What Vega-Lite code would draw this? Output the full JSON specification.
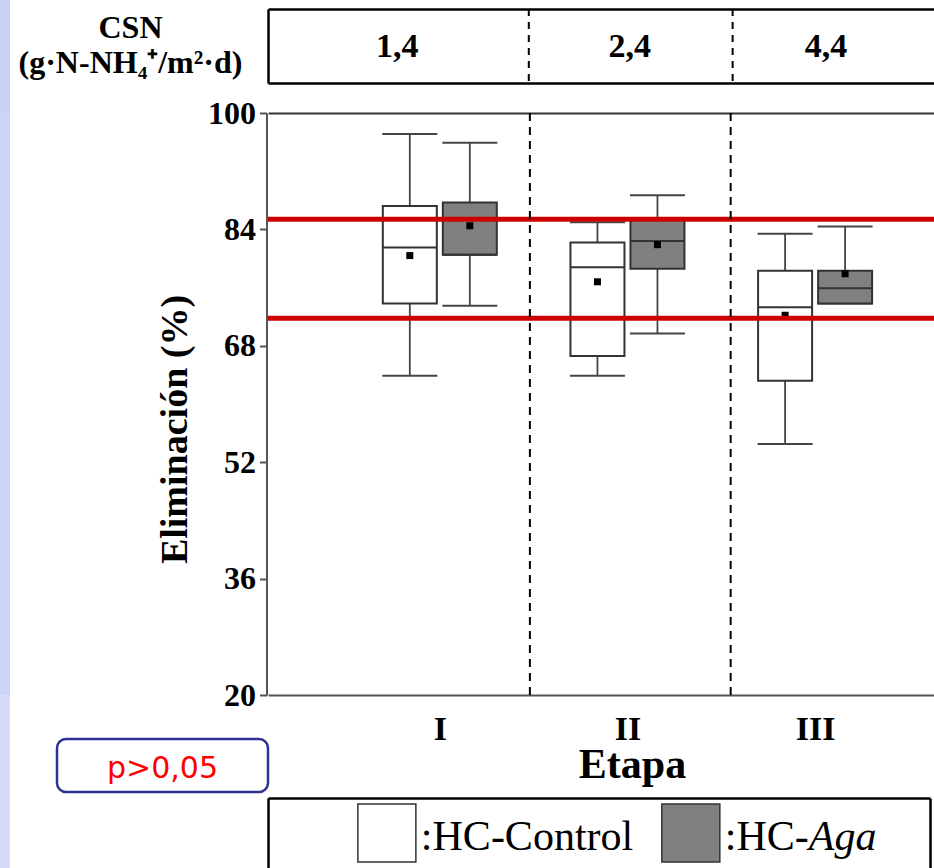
{
  "$schema": "https://vega.github.io/schema/vega-lite/v6.json",
  "padding": 0,
  "autosize": {"type": "pad"},
  "background": "white",
  "config": {"view": {"stroke": null}, "axis": {"grid": false}, "font": "Liberation Serif"},
  "spacing": 0,
  "bounds": "flush",
  "align": "each",
  "columns": 4,
  "concat": [
    {"width": 10, "height": 9, "view": {"fill": "#c8d0f4", "stroke": null}, "data": {"values": []}, "mark": "point"},
    {"width": 1, "height": 1, "data": {"values": []}, "mark": "point"},
    {"width": 1, "height": 1, "data": {"values": []}, "mark": "point"},
    {"width": 1, "height": 1, "data": {"values": []}, "mark": "point"},

    {"width": 10, "height": 74, "view": {"fill": "#c8d0f4", "stroke": null}, "data": {"values": []}, "mark": "point"},
    {"width": 1, "height": 1, "data": {"values": []}, "mark": "point"},
    {"width": 1, "height": 1, "data": {"values": []}, "mark": "point"},
    {
      "width": 666, "height": 74,
      "layer": [
        {
          "data": {"values": [{"csn": "1,4", "pos": 0.79}, {"csn": "2,4", "pos": 2.01}, {"csn": "4,4", "pos": 3.04}]},
          "mark": {"type": "text", "font": "Liberation Serif", "fontWeight": "bold", "fontSize": 34, "baseline": "alphabetic", "dy": 11, "color": "black"},
          "encoding": {
            "x": {"field": "pos", "type": "quantitative", "scale": {"domain": [0.111, 3.607], "nice": false, "zero": false},
                  "axis": {"orient": "bottom", "domain": true, "domainColor": "black", "domainWidth": 2.5, "labels": false, "ticks": false, "title": null, "grid": false}},
            "y": {"datum": 0.5, "type": "quantitative", "scale": {"domain": [0, 1]},
                  "axis": {"orient": "left", "domain": true, "domainColor": "black", "domainWidth": 2.5, "labels": false, "ticks": false, "grid": false,
                           "title": ["CSN", "(g·N-NH₄⁺/m²·d)"], "titleAngle": 0, "titleAlign": "center", "titleBaseline": "alphabetic",
                           "titleX": -138, "titleY": 28, "titleFontSize": 32, "titleFont": "Liberation Serif", "titleFontWeight": "bold",
                           "titleLineHeight": 35, "titleColor": "black"}},
            "text": {"field": "csn"}
          }
        },
        {
          "data": {"values": [{"pos": 1.48}, {"pos": 2.55}]},
          "mark": {"type": "rule", "strokeDash": [7, 6], "strokeWidth": 2, "color": "black"},
          "encoding": {
            "x": {"field": "pos", "type": "quantitative", "scale": {"domain": [0.111, 3.607], "nice": false, "zero": false},
                  "axis": {"orient": "top", "domain": true, "domainColor": "black", "domainWidth": 2.5, "labels": false, "ticks": false, "title": null, "grid": false}}
          }
        }
      ],
      "resolve": {"axis": {"x": "independent"}}
    },

    {"width": 10, "height": 30, "view": {"fill": "#c8d0f4", "stroke": null}, "data": {"values": []}, "mark": "point"},
    {"width": 1, "height": 1, "data": {"values": []}, "mark": "point"},
    {"width": 1, "height": 1, "data": {"values": []}, "mark": "point"},
    {"width": 1, "height": 1, "data": {"values": []}, "mark": "point"},

    {"width": 10, "height": 582, "view": {"fill": "#cdd4f5", "stroke": null}, "data": {"values": []}, "mark": "point"},
    {"width": 1, "height": 1, "data": {"values": []}, "mark": "point"},
    {"width": 1, "height": 1, "data": {"values": []}, "mark": "point"},
    {
      "width": 666, "height": 582,
      "layer": [
        {
          "data": {"values": [
            {"stage": 1, "group": "Control", "min": 63.9, "q1": 73.8, "median": 81.5, "q3": 87.2, "max": 97.1, "mean": 80.4},
            {"stage": 1, "group": "Aga", "min": 73.5, "q1": 80.5, "median": 80.5, "q3": 87.7, "max": 95.9, "mean": 84.5},
            {"stage": 2, "group": "Control", "min": 63.9, "q1": 66.6, "median": 78.8, "q3": 82.2, "max": 85.0, "mean": 76.8},
            {"stage": 2, "group": "Aga", "min": 69.7, "q1": 78.6, "median": 82.4, "q3": 85.3, "max": 88.7, "mean": 81.9},
            {"stage": 3, "group": "Control", "min": 54.5, "q1": 63.2, "median": 73.3, "q3": 78.3, "max": 83.4, "mean": 72.2},
            {"stage": 3, "group": "Aga", "min": 73.8, "q1": 73.8, "median": 75.9, "q3": 78.3, "max": 84.4, "mean": 77.9}
          ]},
          "encoding": {
            "x": {"field": "stage", "type": "quantitative", "title": "Etapa", "scale": {"domain": [0.111, 3.607], "nice": false, "zero": false},
                  "axis": {"orient": "bottom", "values": [1, 2, 3],
                           "labelExpr": "datum.value === 1 ? 'I' : (datum.value === 2 ? 'II' : 'III')",
                           "domain": true, "domainColor": "#555555", "domainWidth": 2, "ticks": false, "tickSize": 0,
                           "labelFont": "Liberation Serif", "labelFontWeight": "bold", "labelFontSize": 34, "labelColor": "black",
                           "labelBaseline": "alphabetic", "labelPadding": 44, "labelFlush": false,
                           "title": "Etapa", "titleFont": "Liberation Serif", "titleFontWeight": "bold", "titleFontSize": 42, "titleColor": "black",
                           "titleX": 364, "titleY": 82, "titleAlign": "center", "titleBaseline": "alphabetic", "grid": false}}
          },
          "layer": [
            {
              "transform": [{"filter": "datum.group === 'Control'"}],
              "layer": [
                {"mark": {"type": "rule", "xOffset": -30, "color": "#444444", "strokeWidth": 1.8},
                 "encoding": {"y": {"field": "min", "type": "quantitative", "title": "Eliminación (%)", "scale": {"domain": [20, 100], "nice": false, "zero": false},
                                    "axis": {"orient": "left", "offset": 1.5, "values": [20, 36, 52, 68, 84, 100], "domain": true, "domainColor": "#555555", "domainWidth": 2,
                                             "ticks": true, "tickColor": "#555555", "tickWidth": 2, "tickSize": 7,
                                             "labelFont": "Liberation Serif", "labelFontWeight": "bold", "labelFontSize": 32, "labelColor": "black", "labelPadding": 4,
                                             "title": "Eliminación (%)", "titleFont": "Liberation Serif", "titleFontWeight": "bold", "titleFontSize": 38, "titleColor": "black",
                                             "titleX": -80, "titleY": 316, "titleAngle": 270, "titleAlign": "center", "titleBaseline": "alphabetic", "grid": false}},
                              "y2": {"field": "max"}}},
                {"mark": {"type": "tick", "orient": "horizontal", "xOffset": -30, "size": 55, "thickness": 2, "color": "#444444", "opacity": 1},
                 "encoding": {"y": {"field": "min", "type": "quantitative", "title": "Eliminación (%)"}}},
                {"mark": {"type": "tick", "orient": "horizontal", "xOffset": -30, "size": 55, "thickness": 2, "color": "#444444", "opacity": 1},
                 "encoding": {"y": {"field": "max", "type": "quantitative", "title": "Eliminación (%)"}}},
                {"mark": {"type": "bar", "xOffset": -30, "width": 54, "fill": "white", "stroke": "#333333", "strokeWidth": 2, "opacity": 1},
                 "encoding": {"y": {"field": "q1", "type": "quantitative", "title": "Eliminación (%)"}, "y2": {"field": "q3"}}},
                {"mark": {"type": "tick", "orient": "horizontal", "xOffset": -30, "size": 54, "thickness": 2, "color": "#333333", "opacity": 1},
                 "encoding": {"y": {"field": "median", "type": "quantitative", "title": "Eliminación (%)"}}},
                {"mark": {"type": "point", "shape": "square", "filled": true, "color": "black", "size": 49, "opacity": 1, "xOffset": -30},
                 "encoding": {"y": {"field": "mean", "type": "quantitative", "title": "Eliminación (%)"}}}
              ]
            },
            {
              "transform": [{"filter": "datum.group === 'Aga'"}],
              "layer": [
                {"mark": {"type": "rule", "xOffset": 30, "color": "#444444", "strokeWidth": 1.8},
                 "encoding": {"y": {"field": "min", "type": "quantitative", "title": "Eliminación (%)"}, "y2": {"field": "max"}}},
                {"mark": {"type": "tick", "orient": "horizontal", "xOffset": 30, "size": 55, "thickness": 2, "color": "#444444", "opacity": 1},
                 "encoding": {"y": {"field": "min", "type": "quantitative", "title": "Eliminación (%)"}}},
                {"mark": {"type": "tick", "orient": "horizontal", "xOffset": 30, "size": 55, "thickness": 2, "color": "#444444", "opacity": 1},
                 "encoding": {"y": {"field": "max", "type": "quantitative", "title": "Eliminación (%)"}}},
                {"mark": {"type": "bar", "xOffset": 30, "width": 54, "fill": "#808080", "stroke": "#333333", "strokeWidth": 2, "opacity": 1},
                 "encoding": {"y": {"field": "q1", "type": "quantitative", "title": "Eliminación (%)"}, "y2": {"field": "q3"}}},
                {"mark": {"type": "tick", "orient": "horizontal", "xOffset": 30, "size": 54, "thickness": 2, "color": "#333333", "opacity": 1},
                 "encoding": {"y": {"field": "median", "type": "quantitative", "title": "Eliminación (%)"}}},
                {"mark": {"type": "point", "shape": "square", "filled": true, "color": "black", "size": 49, "opacity": 1, "xOffset": 30},
                 "encoding": {"y": {"field": "mean", "type": "quantitative", "title": "Eliminación (%)"}}}
              ]
            }
          ]
        },
        {
          "data": {"values": [{"ref": 85.4}, {"ref": 71.8}]},
          "mark": {"type": "rule", "color": "#cc0000", "strokeWidth": 5},
          "encoding": {"y": {"field": "ref", "type": "quantitative", "title": "Eliminación (%)"}}
        },
        {
          "data": {"values": [{"pos": 1.48}, {"pos": 2.55}]},
          "mark": {"type": "rule", "color": "black", "strokeWidth": 2, "strokeDash": [8, 6]},
          "encoding": {
            "x": {"field": "pos", "type": "quantitative", "scale": {"domain": [0.111, 3.607], "nice": false, "zero": false},
                  "axis": {"orient": "top", "domain": true, "domainColor": "#333333", "domainWidth": 2, "labels": false, "ticks": false, "title": null, "grid": false}}
          }
        }
      ],
      "resolve": {"axis": {"x": "independent"}}
    },

    {"width": 10, "height": 44, "view": {"fill": "#d6dcf7", "stroke": null}, "data": {"values": []}, "mark": "point"},
    {"width": 1, "height": 1, "data": {"values": []}, "mark": "point"},
    {"width": 1, "height": 1, "data": {"values": []}, "mark": "point"},
    {"width": 1, "height": 1, "data": {"values": []}, "mark": "point"},

    {"width": 10, "height": 53, "view": {"fill": "#d6dcf7", "stroke": null}, "data": {"values": []}, "mark": "point"},
    {"width": 47, "height": 1, "data": {"values": []}, "mark": "point"},
    {
      "width": 211, "height": 53,
      "view": {"stroke": "#2e3192", "strokeWidth": 2.5, "cornerRadius": 9},
      "data": {"values": [{"label": "p>0,05"}]},
      "mark": {"type": "text", "font": "DejaVu Sans", "fontSize": 30, "color": "#ff0000", "baseline": "alphabetic", "dy": 12},
      "encoding": {"text": {"field": "label"}}
    },
    {"width": 1, "height": 1, "data": {"values": []}, "mark": "point"},

    {"width": 10, "height": 6, "view": {"fill": "#d6dcf7", "stroke": null}, "data": {"values": []}, "mark": "point"},
    {"width": 1, "height": 1, "data": {"values": []}, "mark": "point"},
    {"width": 1, "height": 1, "data": {"values": []}, "mark": "point"},
    {"width": 1, "height": 1, "data": {"values": []}, "mark": "point"},

    {"width": 10, "height": 70, "view": {"fill": "#d6dcf7", "stroke": null}, "data": {"values": []}, "mark": "point"},
    {"width": 1, "height": 1, "data": {"values": []}, "mark": "point"},
    {"width": 1, "height": 1, "data": {"values": []}, "mark": "point"},
    {
      "width": 662, "height": 70,
      "data": {"values": [{"group": "Control", "label": ":HC-Control", "italic": ""}, {"group": "Aga", "label": ":HC-", "italic": "Aga"}]},
      "encoding": {
        "x": {"field": "group", "type": "nominal", "scale": {"type": "point", "domain": ["Control", "Aga"], "padding": 0.589, "align": 0.332},
              "axis": {"orient": "top", "domain": true, "domainColor": "black", "domainWidth": 2.5, "labels": false, "ticks": false, "title": null, "grid": false}}
      },
      "layer": [
        {"mark": {"type": "point", "shape": "square", "size": 3364, "filled": true, "stroke": "#333333", "strokeWidth": 1.5, "opacity": 1},
         "encoding": {
           "fill": {"field": "group", "type": "nominal", "scale": {"domain": ["Control", "Aga"], "range": ["white", "#808080"]}, "legend": null},
           "y": {"datum": 0.5, "type": "quantitative", "scale": {"domain": [0, 1]},
                 "axis": {"orient": "left", "domain": true, "domainColor": "black", "domainWidth": 2.5, "labels": false, "ticks": false, "title": null, "grid": false}}
         }},
        {"mark": {"type": "text", "align": "left", "dx": 34, "dy": 17, "baseline": "alphabetic", "font": "Liberation Serif", "fontSize": 42, "color": "black"},
         "encoding": {
           "text": {"field": "label"},
           "y": {"datum": 0.5, "type": "quantitative", "scale": {"domain": [0, 1]},
                 "axis": {"orient": "right", "domain": true, "domainColor": "black", "domainWidth": 2.5, "labels": false, "ticks": false, "title": null, "grid": false}}
         }},
        {"mark": {"type": "text", "align": "left", "dx": 118, "dy": 17, "baseline": "alphabetic", "font": "Liberation Serif", "fontSize": 42, "fontStyle": "italic", "color": "black"},
         "encoding": {
           "text": {"field": "italic"},
           "y": {"datum": 0.5, "type": "quantitative", "axis": null}
         }}
      ],
      "resolve": {"axis": {"y": "independent"}}
    }
  ]
}
